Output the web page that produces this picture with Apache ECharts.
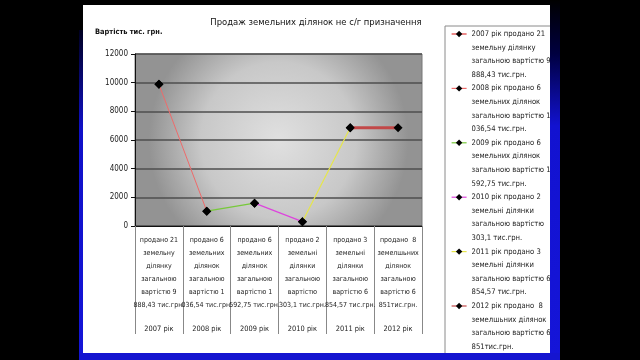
<!DOCTYPE html>
<html>
<head>
<meta charset="utf-8">
<script src="https://cdn.jsdelivr.net/npm/echarts@6/dist/echarts.min.js"></script>
<style>
html,body{margin:0;padding:0;background:#000;}
#c{width:640px;height:360px;}
</style>
</head>
<body>
<div id="c"></div>
<script>
var years = ['2007 рік', '2008 рік', '2009 рік', '2010 рік', '2011 рік', '2012 рік'];
var catText = [
  'продано 21\nземельну\nділянку\nзагальною\nвартістю 9\n888,43 тис.грн.',
  'продано 6\nземельних\nділянок\nзагальною\nвартістю 1\n036,54 тис.грн.',
  'продано 6\nземельних\nділянок\nзагальною\nвартістю 1\n592,75 тис.грн.',
  'продано 2\nземельні\nділянки\nзагальною\nвартістю\n303,1 тис.грн.',
  'продано 3\nземельні\nділянки\nзагальною\nвартістю 6\n854,57 тис.грн.',
  'продано  8\nземелшьних\nділянок\nзагальною\nвартістю 6\n851тис.грн.'
];
var legendNames = [
  '2007 рік продано 21\nземельну ділянку\nзагальною вартістю 9\n888,43 тис.грн.',
  '2008 рік продано 6\nземельних ділянок\nзагальною вартістю 1\n036,54 тис.грн.',
  '2009 рік продано 6\nземельних ділянок\nзагальною вартістю 1\n592,75 тис.грн.',
  '2010 рік продано 2\nземельні ділянки\nзагальною вартістю\n303,1 тис.грн.',
  '2011 рік продано 3\nземельні ділянки\nзагальною вартістю 6\n854,57 тис.грн.',
  '2012 рік продано  8\nземелшьних ділянок\nзагальною вартістю 6\n851тис.грн.'
];
var values = [9888.43, 1036.54, 1592.75, 303.1, 6854.57, 6851];
var yTicks = [0, 2000, 4000, 6000, 8000, 10000, 12000];
var titleText = 'Продаж земельних ділянок не с/г призначення';
var yName = 'Вартість тис. грн.';

var lineColors = ['#e03a3a', '#ee6b6b', '#77c93a', '#dd44dd', '#e6e64a', '#c24848'];
var lineWidths = [1, 1, 1.2, 1.2, 1.2, 3];
var FONT = "'DejaVu Sans Condensed', 'Liberation Sans', sans-serif";

var series = legendNames.map(function (name, k) {
  var data = values.map(function (v, i) {
    return (i === k || i === k - 1) ? v : null;
  });
  return {
    name: name,
    type: 'line',
    data: data,
    symbol: 'diamond',
    symbolSize: 9,
    showAllSymbol: true,
    connectNulls: false,
    itemStyle: { color: '#000' },
    lineStyle: { color: lineColors[k], width: lineWidths[k] },
    emphasis: { disabled: true },
    animation: false,
    z: 3 + k
  };
});

var chart = echarts.init(document.getElementById('c'), null, { renderer: 'canvas' });
chart.setOption({
  backgroundColor: '#000',
  animation: false,
  textStyle: { fontFamily: FONT },
  title: [
    { text: titleText, left: 316, top: 18, padding: 0, textAlign: 'center',
      textStyle: { fontFamily: FONT, fontSize: 9.4, fontWeight: 'normal', color: '#111' } },
    { text: yName, left: 95, top: 29, padding: 0,
      textStyle: { fontFamily: FONT, fontSize: 7.4, fontWeight: 'bold', color: '#111' } }
  ],
  graphic: [
    { type: 'rect', z: -20, shape: { x: 79, y: 30, width: 482, height: 330 },
      style: { fill: { type: 'linear', x: 0, y: 0, x2: 0, y2: 1,
        colorStops: [{ offset: 0, color: '#000020' }, { offset: 0.3, color: '#1010c8' }, { offset: 1, color: '#1515d8' }] } } },
    { type: 'rect', z: -19, shape: { x: 83, y: 5, width: 467, height: 348 }, style: { fill: '#fff' } },
    { type: 'rect', z: -18, shape: { x: 445, y: 26, width: 120, height: 340 },
      style: { fill: '#fff', stroke: '#8a8a8a', lineWidth: 1 } },
    { type: 'rect', z: 100, shape: { x: 550, y: 0, width: 10, height: 360 },
      style: { fill: { type: 'linear', x: 0, y: 0, x2: 0, y2: 1,
        colorStops: [{ offset: 0, color: '#000' }, { offset: 0.15, color: '#000040' }, { offset: 0.35, color: '#1212d0' }, { offset: 1, color: '#1515d8' }] } } },
    { type: 'rect', z: 100, shape: { x: 79, y: 353, width: 482, height: 7 }, style: { fill: '#1515d0' } },
    { type: 'rect', z: 100, shape: { x: 560, y: 0, width: 80, height: 360 }, style: { fill: '#000' } }
  ],
  grid: {
    left: 135, right: 218, top: 54, bottom: 134,
    show: true,
    backgroundColor: { type: 'radial', x: 0.5, y: 0.5, r: 0.75,
      colorStops: [{ offset: 0, color: '#e0e0e0' }, { offset: 0.6, color: '#c8c8c8' }, { offset: 1, color: '#939393' }] },
    borderColor: '#777', borderWidth: 1
  },
  legend: {
    orient: 'vertical',
    left: 451, top: -13.6, height: 1000,
    padding: 0,
    itemGap: -40.8,
    itemWidth: 15, itemHeight: 8,
    data: legendNames,
    selectedMode: false,
    formatter: function (name) { return '\n\n\n' + name; },
    lineStyle: { width: 1.2 },
    textStyle: { fontFamily: FONT, fontSize: 7.6, lineHeight: 13.6, color: '#222' }
  },
  xAxis: {
    type: 'category',
    data: years,
    boundaryGap: true,
    axisLine: { lineStyle: { color: '#111', width: 1 } },
    axisTick: { show: true, length: 108, lineStyle: { color: '#888' }, alignWithLabel: false },
    axisLabel: {
      interval: 0, margin: 8, fontFamily: FONT, fontSize: 7, lineHeight: 13, color: '#222',
      formatter: function (value, idx) {
        return catText[idx] + '\n{y|' + value + '}';
      },
      rich: { y: { fontFamily: FONT, fontSize: 7.4, lineHeight: 34, color: '#222' } }
    },
    splitLine: { show: false }
  },
  yAxis: {
    type: 'value',
    min: yTicks[0], max: yTicks[yTicks.length - 1], interval: 2000,
    axisLine: { show: true, lineStyle: { color: '#111' } },
    axisTick: { show: true, length: 4, lineStyle: { color: '#111' } },
    axisLabel: { margin: 7, fontFamily: FONT, fontSize: 8, color: '#222',
      formatter: function (v) { return String(v); } },
    splitLine: { show: true, lineStyle: { color: '#4e4e4e', width: 1.5 } }
  },
  series: series
});
</script>
</body>
</html>
